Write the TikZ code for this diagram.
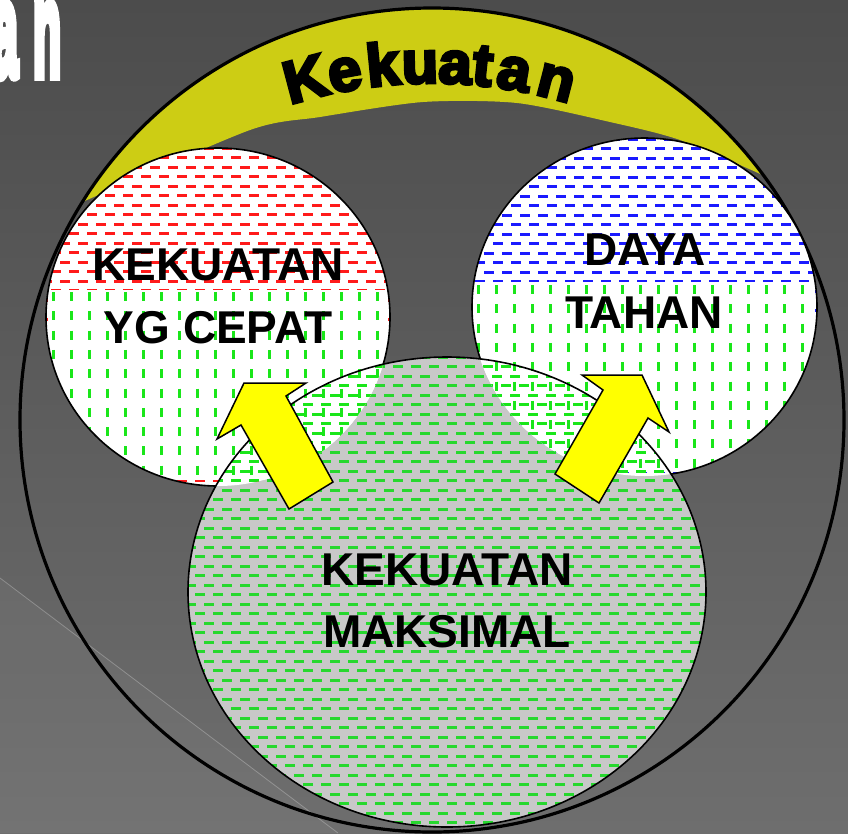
\documentclass[tikz,border=0pt]{standalone}
\usepackage{fontspec}
\setmainfont{Liberation Sans}
\newfontfamily\heavyfont[FakeBold=5]{Liberation Sans Bold}
\newfontfamily\titlefont[FakeBold=9]{Liberation Sans Bold}
\usetikzlibrary{shadings}

\definecolor{bgtop}{HTML}{4C4C4C}
\definecolor{bgbot}{HTML}{6E6E6E}
\definecolor{bandyellow}{HTML}{CDCD14}
\definecolor{dashred}{HTML}{FF1A1A}
\definecolor{dashblue}{HTML}{1A1AFF}
\definecolor{dashgreen}{HTML}{1AE61A}
\definecolor{dashgreendk}{HTML}{26D82E}
\definecolor{discgray}{HTML}{C8C8C8}
\definecolor{arrowyellow}{HTML}{FFFF00}

\tikzset{
  dashline/.style={line width=3pt},
  discline/.style={draw=black, line width=1.6pt},
  ringline/.style={draw=black, line width=3.2pt},
  blockarrow/.style={fill=arrowyellow, draw=black, line width=1.5pt, line join=miter},
  caption/.style={font=\fontsize{46}{50}\selectfont\bfseries, anchor=base, inner sep=0pt},
  bandletter/.style={font=\heavyfont\fontsize{60}{62}\selectfont, anchor=base, inner sep=0pt},
  titleletter/.style={anchor=base east, inner sep=0pt, text=white,
    font=\titlefont\fontsize{132}{132}\selectfont},
}

% staggered rows of short horizontal dashes: origin x, origin y, columns, rows
\newcommand\hgrid[4]{%
  foreach \j in {0,...,#4}{ foreach \i in {0,...,#3}{
    ({#1+18*\i+9*mod(\j,2)},{#2+9.5*\j}) -- ++(9.5,0) } }}
% aligned rows of short vertical dashes
\newcommand\vgrid[4]{%
  foreach \j in {0,...,#4}{ foreach \i in {0,...,#3}{
    ({#1+18*\i},{#2+19.3*\j}) -- ++(0,9) } }}

% one letter of the arched title, phi = angle from the vertical
\newcommand\archletter[3]{%
  \node[bandletter, rotate={-(#2)}] (#1)
    at ({432+475*sin(#2)},{558-475*cos(#2)}) {#3};}

% disc outlines
\newcommand\lowerdisc{(447,592) ellipse (259 and 235)}
\newcommand\leftdisc{(218,317) ellipse (172 and 169)}
\newcommand\rightdisc{(644.5,307) ellipse (172.5 and 169)}

\begin{document}
\begin{tikzpicture}[x=1pt,y=-1pt]
\useasboundingbox (0,0) rectangle (848,833);

% background
\shade[top color=bgtop, bottom color=bgbot] (0,0) rectangle (848,833);
\fill[white, opacity=0.04] (0,578) -- (338,833) -- (0,833) -- cycle;
\draw[white, opacity=0.25, line width=0.8pt] (0,578) -- (338,833);

% title fragment
\node[titleletter] (titleA) at (18,75) {\scalebox{0.36}[1]{a}};
\node[titleletter] (titleN) at (61,75) {\scalebox{0.34}[1]{n}};

% arched band
\begin{scope}
  \clip (432,420) circle (412);
  \fill[bandyellow] plot[smooth, tension=0.45] coordinates
    {(75,206) (87,200) (250,130) (320,117) (423,102) (517,103)
     (610,122) (680,140) (767,177) (790,190)}
    -- (848,0) -- (0,0) -- cycle;
\end{scope}
\draw[ringline] (432,420) circle (412);

% lower disc
\fill[discgray] \lowerdisc;
\begin{scope}
  \clip \lowerdisc;
  \draw[dashline, dashgreendk] \hgrid{186}{357}{29}{50};
\end{scope}

% upper left disc
\fill[white] \leftdisc;
\begin{scope}
  \clip \leftdisc;
  \draw[dashline, dashred] \hgrid{42}{148}{19}{36};
  \fill[white] (48,290) rectangle (388,480);
  \begin{scope}
    \clip (48,290) rectangle (388,480);
    \draw[dashline, dashgreen] \vgrid{53}{292}{19}{10};
  \end{scope}
  \clip \lowerdisc;
  \draw[dashline, dashgreen] \hgrid{186}{357}{29}{50};
\end{scope}

% upper right disc
\fill[white] \rightdisc;
\begin{scope}
  \clip \rightdisc;
  \draw[dashline, dashblue] \hgrid{466}{139}{20}{36};
  \fill[white] (472,282) rectangle (815,472);
  \begin{scope}
    \clip (472,282) rectangle (815,472);
    \draw[dashline, dashgreen] \vgrid{478}{285}{19}{10};
  \end{scope}
  \clip \lowerdisc;
  \draw[dashline, dashgreen] \hgrid{186}{357}{29}{50};
\end{scope}

% outlines of the upper discs, kept outside the lower disc
\begin{scope}[even odd rule]
  \clip (0,0) rectangle (848,833) \lowerdisc;
  \draw[discline] \leftdisc;
  \draw[discline] \rightdisc;
\end{scope}
\draw[discline] \lowerdisc;

% block arrows
\draw[blockarrow] (244,383) -- (306,383) -- (286,396) -- (333,482)
  -- (289,509) -- (241,425) -- (217,439) -- cycle;
\draw[blockarrow] (582,375) -- (642,375) -- (669,432) -- (648,418)
  -- (599,503) -- (555,474) -- (603,390) -- cycle;

% captions
\node[caption] (fastA) at (218,280) {KEKUATAN};
\node[caption] (fastB) at (218,343) {YG CEPAT};
\node[caption] (enduA) at (645,265) {DAYA};
\node[caption] (enduB) at (644,328) {TAHAN};
\node[caption] (maxA) at (447,585) {KEKUATAN};
\node[caption] (maxB) at (447,647) {MAKSIMAL};

% arched title
\archletter{k1}{-14.8}{K}
\archletter{k2}{-10.2}{e}
\archletter{k3}{-5.7}{k}
\archletter{k4}{-1.4}{u}
\archletter{k5}{2.7}{a}
\archletter{k6}{5.9}{t}
\archletter{k7}{9.6}{a}
\archletter{k8}{14.6}{n}
\end{tikzpicture}
\end{document}
